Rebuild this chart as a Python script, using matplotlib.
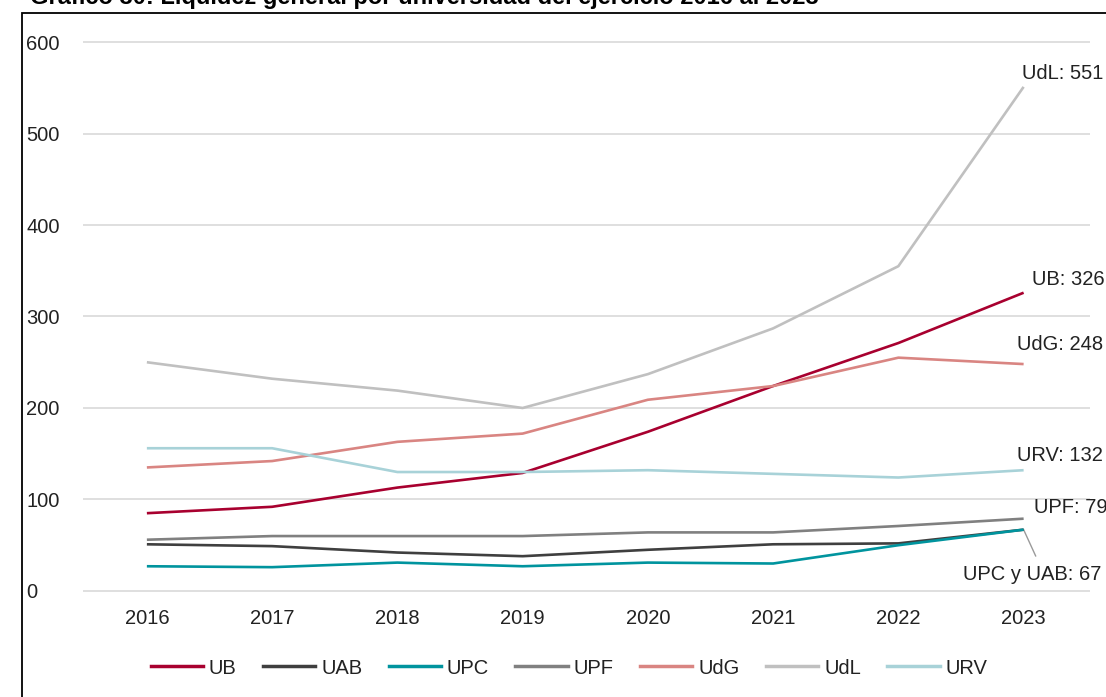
import matplotlib
matplotlib.use("Agg")
import matplotlib.pyplot as plt
from matplotlib.patches import Rectangle
from matplotlib.lines import Line2D

plt.rcParams['font.family'] = ['Liberation Sans', 'DejaVu Sans']

years = [2016, 2017, 2018, 2019, 2020, 2021, 2022, 2023]
series_names = ["UB", "UAB", "UPC", "UPF", "UdG", "UdL", "URV"]
ub = [85, 92, 113, 129, 174, 224, 271, 326]
uab = [51, 49, 42, 38, 45, 51, 52, 67]
upc = [27, 26, 31, 27, 31, 30, 50, 67]
upf = [56, 60, 60, 60, 64, 64, 71, 79]
udg = [135, 142, 163, 172, 209, 224, 255, 248]
udl = [250, 232, 219, 200, 237, 287, 355, 551]
urv = [156, 156, 130, 130, 132, 128, 124, 132]
values = [ub, uab, upc, upf, udg, udl, urv]
colors = ["#a8002f", "#3f3f3f", "#00949e", "#808080", "#d98582", "#c0c0c0", "#a8d2d8"]
yticks = [0, 100, 200, 300, 400, 500, 600]
title = "Gráfico 30: Liquidez general por universidad del ejercicio 2016 al 2023"

W, H = 1106, 697
fig = plt.figure(figsize=(W / 100, H / 100), dpi=100)

def fx(px):
    return px / W

def fy(py):
    return 1 - py / H

ax = fig.add_axes([fx(83), fy(593.7), fx(1090) - fx(83), fy(39.3) - fy(593.7)])
for name, vals, c in zip(series_names, values, colors):
    ax.plot(years, vals, color=c, lw=1.9, label=name, solid_capstyle='butt', zorder=3)

ax.set_xlim(2015.49, 2023.53)
ax.set_ylim(-3, 603)
ax.set_yticks(yticks)
ax.set_xticks(years)
ax.grid(axis='y', color='#d9d9d9', lw=1.2, zorder=0)
ax.set_axisbelow(True)
for s in ax.spines.values():
    s.set_visible(False)
ax.tick_params(axis='both', length=0, labelsize=14.5, colors='#222222')
ax.tick_params(axis='y', pad=0)
ax.tick_params(axis='x', pad=11)
for lab in ax.get_yticklabels():
    lab.set_horizontalalignment('left')
    lab.set_x(-0.0566)

# End labels
lab_kw = dict(fontsize=14.5, color='#222222', va='center', ha='left', clip_on=False)
ax.text(2022.984, 566, "UdL: 551", **lab_kw)
ax.text(2023.07, 340, "UB: 326", **lab_kw)
ax.text(2022.944, 269, "UdG: 248", **lab_kw)
ax.text(2022.944, 148.6, "URV: 132", **lab_kw)
ax.text(2023.08, 90.7, "UPF: 79", **lab_kw)
ax.text(2022.513, 17.5, "UPC y UAB: 67", **lab_kw)
ax.plot([2023.0, 2023.096], [67, 38.3], color='#9a9a9a', lw=1.0, clip_on=False, zorder=2)

# Legend
handles = [Line2D([], [], color=c, lw=2.5) for c in colors]
fig.legend(handles, series_names, loc='center', bbox_to_anchor=(fx(569), fy(668)),
           ncol=7, frameon=False, fontsize=14.5, handlelength=2.6, handletextpad=0.3,
           columnspacing=1.3, labelcolor='#222222')

# Frame
fig.patches.append(Rectangle((fx(22), fy(H + 20)), 1.2, fy(12.5) - fy(H + 20),
                             transform=fig.transFigure, fill=False, ec='black', lw=1.3))

fig.text(fx(30), fy(4), title, fontsize=17, fontweight='bold', ha='left', va='baseline')

fig.savefig("out.png", dpi=100)
